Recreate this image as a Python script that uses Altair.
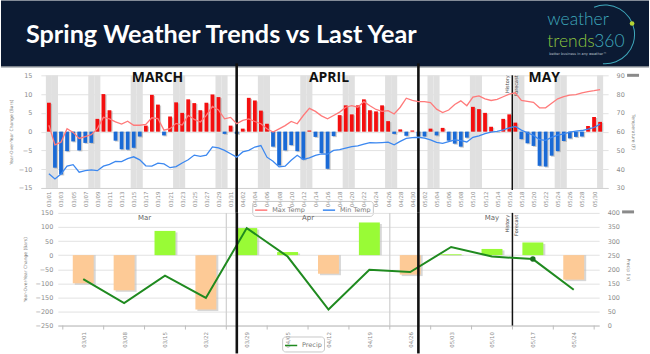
import altair as alt
import pandas as pd

# ---------------- data ----------------
day_dates = pd.date_range("2014-03-01", "2014-05-31", freq="D")
day_labels = [d.strftime("%m/%d") for d in day_dates]

yoy_temp = [7.7, -9.6, -11.4, -5.2, -2.6, -5.0, -3.0, -3.0, 3.4, 10.0,
            5.7, -2.4, -4.7, -4.8, -4.3, -1.3, 1.6, 9.8, 7.2, -1.0,
            4.0, 7.8, 5.0, 8.6, 7.6, 5.7, 7.7, 9.9, 9.2, -0.6,
            1.6, -0.6, 0.8, 9.0, 8.3, 5.6, 2.1, -4.0, -9.0, -5.0,
            -3.6, -5.2, -7.4, 0.3, -1.4, -5.7, -9.9, -1.2, 4.4, 7.0,
            4.6, 7.0, 8.6, 5.7, 5.4, 7.0, 2.8, -0.6, 0.6, -1.1,
            0.3, -1.2, -1.3, 0.8, -1.0, 1.0, -2.4, -3.2, -4.0, -1.6,
            6.6, 6.0, 5.0, 1.3, 0.0, 3.4, 4.6, 2.4, -2.0, -3.1,
            -3.8, -9.1, -9.3, -6.4, -5.2, -2.5, -1.8, -1.4, -1.3, 1.5,
            3.9, 2.6]

max_temp = [63.4, 53.0, 54.4, 61.6, 59.6, 56.4, 57.4, 58.4, 61.6, 67.6,
            66.8, 65.2, 64.0, 65.6, 63.4, 63.4, 63.8, 67.4, 67.0, 60.8,
            61.6, 64.4, 63.5, 68.7, 66.5, 65.1, 68.7, 73.5, 71.6, 66.8,
            67.6, 64.2, 66.0, 66.8, 65.4, 64.2, 61.5, 59.8, 61.5, 63.2,
            65.4, 64.2, 68.6, 72.4, 70.8, 68.4, 66.8, 68.6, 70.4, 73.0,
            73.8, 73.0, 76.0, 73.8, 71.8, 70.8, 71.2, 69.4, 73.0, 77.8,
            76.6, 76.0, 76.0, 75.5, 72.0, 70.2, 71.5, 74.5, 76.4, 73.8,
            78.4, 79.0, 77.5, 76.6, 77.2, 78.6, 80.0, 80.7, 76.6, 76.1,
            75.6, 72.7, 72.7, 75.1, 77.5, 78.6, 79.5, 79.7, 80.6, 81.3,
            81.8, 82.4]

min_temp = [37.6, 34.8, 37.4, 41.6, 42.4, 38.4, 39.2, 39.6, 39.2, 41.6,
            42.6, 44.2, 44.0, 45.6, 46.6, 45.0, 41.8, 41.6, 43.2, 42.8,
            40.8, 41.4, 43.3, 45.0, 47.5, 46.8, 47.5, 51.9, 51.3, 50.0,
            48.2, 46.4, 49.2, 50.0, 51.8, 52.6, 46.4, 44.2, 41.2, 41.6,
            44.8, 47.4, 45.2, 46.0, 47.4, 48.2, 48.0, 50.0, 50.4, 51.2,
            52.0, 52.4, 53.4, 54.2, 54.0, 54.2, 54.4, 53.0, 54.8, 56.4,
            56.8, 57.0, 56.5, 55.6, 54.3, 53.8, 54.7, 55.6, 55.2, 54.5,
            57.0, 57.8, 59.0, 59.7, 60.2, 61.0, 62.0, 62.8, 60.8, 59.4,
            58.0, 55.7, 55.4, 56.9, 58.1, 58.8, 59.8, 60.3, 60.6, 61.3,
            62.2, 64.0]

week_labels = ["03/01", "03/08", "03/15", "03/22", "03/29", "04/05", "04/12",
               "04/19", "04/26", "05/03", "05/10", "05/17", "05/24"]
yoy_precip = [-100, -125, 86, -193, 96, 11, -66, 116, -69, 3, 22, 45, -87]
precip = [165, 80, 177, 98, 346, 245, 57, 198, 190, 279, 245, 236, 127]

month_top = ["MARCH", "APRIL", "MAY"]
month_bottom = ["Mar", "Apr", "May"]
weeks_in_month = [4, 4, 5]
month_first_days = ["04/01", "05/01"]
forecast_start = "05/17"
highlight_week = "05/17"

# ---------------- layout / style ----------------
W1, H1 = 569, 113
W2, H2 = 543, 113
HEADER_H, GAP, SHIFT = 50, 25, 17
FONT = "DejaVu Sans"
AX = "#8c8c8c"
RED, BLUE = "#f40f0f", "#1a6ad6"
GREEN_POS, PEACH = "#99fb36", "#fdca96"
one = pd.DataFrame({"a": [0]})


def label_expr(labels):
    return "[" + ",".join(repr(l) for l in labels) + "][floor(datum.value)]"


# ---------------- header ----------------
hdr_rect = alt.Chart(one).mark_rect(color="#0b1a33").encode(
    x=alt.value(-40), x2=alt.value(610), y=alt.value(0), y2=alt.value(66))
hdr_line = alt.Chart(one).mark_rule(color="#7d838c", strokeWidth=1.5).encode(
    x=alt.value(-40), x2=alt.value(610), y=alt.value(66.5))
hdr_title = alt.Chart(one).mark_text(
    text="Spring Weather Trends vs Last Year", font="Lato", fontWeight="bold",
    fontSize=25.3, color="white", align="left", baseline="middle").encode(
    x=alt.value(-15), y=alt.value(35))
logo_w = alt.Chart(one).mark_text(
    text="weather", font="Lato", fontWeight=300, fontSize=17.5, color="#3fa9bd",
    align="left", baseline="alphabetic").encode(x=alt.value(508), y=alt.value(25))
logo_t = alt.Chart(one).mark_text(
    text="trends", font="Lato", fontWeight=300, fontSize=17.5, color="#8dc63f",
    align="left", baseline="alphabetic").encode(x=alt.value(508), y=alt.value(47))
logo_3 = alt.Chart(one).mark_text(
    text="360", font="Lato", fontWeight=300, fontSize=17.5, color="#3fa9bd",
    align="left", baseline="alphabetic").encode(x=alt.value(555), y=alt.value(47))
logo_tag = alt.Chart(one).mark_text(
    text="better business in any weather\u2122", font=FONT, fontSize=3.5,
    color="#b8c2cc", align="left", baseline="middle").encode(
    x=alt.value(510), y=alt.value(54))
logo_arc = alt.Chart(one).mark_arc(
    theta=5.9, theta2=9.5, radius=30, radius2=29, color="#3fa9bd").encode(
    x=alt.value(566), y=alt.value(34))
logo_dot = alt.Chart(one).mark_point(
    filled=True, size=22, color="#b5d334", opacity=1).encode(
    x=alt.value(593), y=alt.value(23))
header = alt.layer(hdr_rect, hdr_line, hdr_title, logo_w, logo_t, logo_3,
                   logo_tag, logo_arc, logo_dot).properties(width=W1, height=HEADER_H)

# ---------------- top chart (temperature) ----------------
n = len(day_labels)
top = pd.DataFrame({"i": range(n), "label": day_labels, "yoy": yoy_temp})
top["c"] = top["i"] + 0.5
top["x1"] = top["i"] + 1
top["weekend"] = [d.dayofweek >= 5 for d in day_dates]
lines = pd.concat([
    pd.DataFrame({"c": top["c"], "temp": max_temp, "series": "Max Temp"}),
    pd.DataFrame({"c": top["c"], "temp": min_temp, "series": "Min Temp"}),
])

x_top_scale = alt.Scale(domain=[0, n], nice=False, zero=False)
top_xaxis = alt.Axis(values=[i + 0.5 for i in range(0, n, 2)],
                     labelExpr=label_expr(day_labels), labelAngle=270,
                     labelFontSize=5.5, labelColor=AX, labelFont=FONT,
                     ticks=False, domainColor="#d0d0d0", grid=False,
                     title=None, labelPadding=3)


def XT(field):
    return alt.X(f"{field}:Q", scale=x_top_scale, axis=top_xaxis)


left_scale = alt.Scale(domain=[-15, 15], nice=False)
left_axis = alt.Axis(values=list(range(-15, 16, 5)), grid=True, gridColor="#e2e2e2",
                     ticks=False, domain=False, labelFontSize=6.5, labelColor=AX,
                     labelFont=FONT, labelPadding=9,
                     title="Year-Over-Year Change (Bars)", titleFontSize=4.5,
                     titleColor="#777", titleFontWeight="normal", titleFont=FONT,
                     titlePadding=5)

weekend = alt.Chart(top[top["weekend"]]).mark_rect(color="#e0e0e0").encode(
    x=XT("i"), x2="x1:Q", y=alt.value(0), y2=alt.value(H1))
shadow_t = alt.Chart(top).mark_bar(width=3.8, color="#9a9a9a", opacity=0.5,
                                   xOffset=1.3, yOffset=1.0).encode(
    x=XT("c"), y=alt.Y("yoy:Q", scale=left_scale, axis=left_axis), y2=alt.datum(0))
bars_t = alt.Chart(top).mark_bar(width=3.8).encode(
    x=XT("c"), y=alt.Y("yoy:Q", scale=left_scale, axis=left_axis), y2=alt.datum(0),
    color=alt.condition("datum.yoy > 0", alt.value(RED), alt.value(BLUE)))

months_df = pd.DataFrame({"m": month_top, "px": [117, 289, 505]})
month_txt = alt.Chart(months_df).mark_text(
    font="Open Sans", fontWeight="bold", fontSize=14, color="#111",
    baseline="middle", align="center").encode(
    text="m:N", x=alt.X("px:Q", scale=None), y=alt.value(3))

div_df = pd.DataFrame({"c": [day_labels.index(d) + 0.5 for d in month_first_days]})
div_top = alt.Chart(div_df).mark_rule(color="#111", strokeWidth=2.6).encode(
    x=XT("c"), y=alt.value(-12), y2=alt.value(H1 + GAP))

fc_df = pd.DataFrame({"x": [day_labels.index(forecast_start)]})
fc_rule_t = alt.Chart(fc_df).mark_rule(color="#111", strokeWidth=1.5).encode(
    x=XT("x"), y=alt.value(0), y2=alt.value(H1 + 2))
hist_t = alt.Chart(fc_df).mark_text(
    text="History", angle=270, fontSize=5, font=FONT, color="#444",
    align="right", baseline="bottom", dy=-2).encode(x=XT("x"), y=alt.value(0))
fore_t = alt.Chart(fc_df).mark_text(
    text="Forecast", angle=270, fontSize=5, font=FONT, color="#444",
    align="right", baseline="top", dy=2).encode(x=XT("x"), y=alt.value(0))
menu_t = alt.Chart(one).mark_rule(color="#8a8a8a", strokeWidth=3).encode(
    x=alt.value(588), x2=alt.value(600), y=alt.value(0))

child_bars = alt.layer(weekend, shadow_t, bars_t, div_top, fc_rule_t, hist_t,
                       fore_t, month_txt, menu_t)

temp_lines = alt.Chart(lines).mark_line(strokeWidth=1.3).encode(
    x=XT("c"),
    y=alt.Y("temp:Q", scale=alt.Scale(domain=[30, 90], nice=False),
            axis=alt.Axis(orient="right", values=list(range(30, 91, 10)),
                          grid=False, ticks=False, domain=False,
                          labelFontSize=6.5, labelColor=AX, labelFont=FONT,
                          labelPadding=8, title="Temperature (F)",
                          titleFontSize=4.5, titleColor="#777",
                          titleFontWeight="normal", titleFont=FONT,
                          titlePadding=6)),
    color=alt.Color("series:N",
                    scale=alt.Scale(domain=["Max Temp", "Min Temp"],
                                    range=["#ff7a7a", "#3c88f0"]),
                    legend=alt.Legend(orient="none", legendX=212, legendY=126,
                                      direction="horizontal", title=None,
                                      symbolType="stroke", symbolStrokeWidth=1.5,
                                      symbolSize=150, labelFontSize=6.5,
                                      labelFont=FONT, labelColor="#777",
                                      strokeColor="#c8c8c8", cornerRadius=3,
                                      padding=2, columnPadding=14)))

top_chart = alt.layer(child_bars, temp_lines).resolve_scale(
    y="independent").properties(width=W1, height=H1)

# ---------------- bottom chart (precipitation) ----------------
nw = len(week_labels)
bot = pd.DataFrame({"k": range(nw), "label": week_labels, "yoy": yoy_precip,
                    "precip": precip, "pseries": "Precip"})
bot["c"] = bot["k"] + 0.5

x_bot_scale = alt.Scale(domain=[0, nw], nice=False, zero=False)
bot_xaxis = alt.Axis(values=[k + 0.5 for k in range(nw)],
                     labelExpr=label_expr(week_labels), labelAngle=270,
                     labelFontSize=5.5, labelColor=AX, labelFont=FONT,
                     ticks=False, domainColor="#bdbdbd", grid=False,
                     title=None, labelPadding=6)


def XB(field):
    return alt.X(f"{field}:Q", scale=x_bot_scale, axis=bot_xaxis)


bl_scale = alt.Scale(domain=[-250, 150], nice=False)
bl_axis = alt.Axis(values=list(range(-250, 151, 50)), grid=True, gridColor="#e2e2e2",
                   ticks=False, domain=False, labelFontSize=6.5, labelColor=AX,
                   labelFont=FONT, labelPadding=5,
                   title="Year-Over-Year Change (Bars)", titleFontSize=4.5,
                   titleColor="#777", titleFontWeight="normal", titleFont=FONT,
                   titlePadding=8)

ends = pd.Series(weeks_in_month).cumsum()
starts = ends - pd.Series(weeks_in_month)
sep_df = pd.DataFrame({"x": list(ends[:-1])})
mon_df = pd.DataFrame({"m": month_bottom, "x": list((starts + ends) / 2)})
tick_df = pd.DataFrame({"x": list(range(nw + 1))})

sep = alt.Chart(sep_df).mark_rule(color="#cfcfcf", strokeWidth=1.2).encode(
    x=XB("x"), y=alt.value(0), y2=alt.value(H2))
ticks_b = alt.Chart(tick_df).mark_rule(color="#bdbdbd").encode(
    x=XB("x"), y=alt.value(H2), y2=alt.value(H2 + 4))
mon_txt = alt.Chart(mon_df).mark_text(fontSize=7, font=FONT, color="#666",
                                      baseline="middle").encode(
    x=XB("x"), y=alt.value(5), text="m:N")
shadow_b = alt.Chart(bot).mark_bar(width=21, color="#bdbdbd", opacity=0.6,
                                   xOffset=2, yOffset=1.5).encode(
    x=XB("c"), y=alt.Y("yoy:Q", scale=bl_scale, axis=bl_axis), y2=alt.datum(0))
bars_b = alt.Chart(bot).mark_bar(width=21).encode(
    x=XB("c"), y=alt.Y("yoy:Q", scale=bl_scale, axis=bl_axis), y2=alt.datum(0),
    color=alt.condition("datum.yoy > 0", alt.value(GREEN_POS), alt.value(PEACH)))

# long month dividers continue through the lower panel at the same page x
div_b_df = pd.DataFrame({"x": [((day_labels.index(d) + 0.5) * W1 / n - SHIFT) * nw / W2
                               for d in month_first_days]})
div_bot = alt.Chart(div_b_df).mark_rule(color="#111", strokeWidth=2.6).encode(
    x=XB("x"), y=alt.value(0), y2=alt.value(H2 + 28))
fcb_df = pd.DataFrame({"x": [week_labels.index(forecast_start)]})
fc_rule_b = alt.Chart(fcb_df).mark_rule(color="#111", strokeWidth=1.5).encode(
    x=XB("x"), y=alt.value(0), y2=alt.value(H2))
hist_b = alt.Chart(fcb_df).mark_text(
    text="History", angle=270, fontSize=5, font=FONT, color="#444",
    align="right", baseline="bottom", dy=-2).encode(x=XB("x"), y=alt.value(2))
fore_b = alt.Chart(fcb_df).mark_text(
    text="Forecast", angle=270, fontSize=5, font=FONT, color="#444",
    align="right", baseline="top", dy=2).encode(x=XB("x"), y=alt.value(2))
menu_b = alt.Chart(one).mark_rule(color="#8a8a8a", strokeWidth=3).encode(
    x=alt.value(566), x2=alt.value(578), y=alt.value(-1))

child_b = alt.layer(sep, ticks_b, mon_txt, shadow_b, bars_b, fc_rule_b,
                    hist_b, fore_b, menu_b)

br_scale = alt.Scale(domain=[0, 400], nice=False)
br_axis = alt.Axis(orient="right", values=list(range(0, 401, 50)), grid=False,
                   ticks=False, domain=False, labelFontSize=6.5, labelColor=AX,
                   labelFont=FONT, labelPadding=8, title="Precip (in)",
                   titleFontSize=4.5, titleColor="#777", titleFontWeight="normal",
                   titleFont=FONT, titlePadding=6)
precip_line = alt.Chart(bot).mark_line(strokeWidth=2).encode(
    x=XB("c"), y=alt.Y("precip:Q", scale=br_scale, axis=br_axis),
    color=alt.Color("pseries:N",
                    scale=alt.Scale(domain=["Precip"], range=["#1f8a1f"]),
                    legend=alt.Legend(orient="none", legendX=242, legendY=124,
                                      title=None, symbolType="stroke",
                                      symbolStrokeWidth=1.5, symbolSize=150,
                                      labelFontSize=6.5, labelFont=FONT,
                                      labelColor="#777", strokeColor="#c8c8c8",
                                      cornerRadius=3, padding=2)))
hl = alt.Chart(bot[bot["label"] == highlight_week]).mark_point(
    filled=True, size=30, color="#17701c", opacity=1, shape="circle").encode(
    x=XB("c"), y=alt.Y("precip:Q", scale=br_scale, axis=br_axis))
child_line = alt.layer(precip_line, hl)

bottom_chart = alt.layer(child_b, child_line, div_bot).resolve_scale(
    y="independent").properties(width=W2, height=H2)

spacer = alt.Chart(one).mark_point(opacity=0).encode(
    x=alt.value(0), y=alt.value(0)).properties(width=SHIFT, height=H2)
bottom_row = alt.hconcat(spacer, bottom_chart, spacing=0, bounds="flush")

chart = alt.vconcat(header, top_chart, bottom_row, spacing=GAP, bounds="flush").resolve_scale(
    color="independent").properties(padding=0, background="white").configure_view(
    stroke=None)

chart.save("out.html", embed_options={"renderer": "svg", "actions": False})
